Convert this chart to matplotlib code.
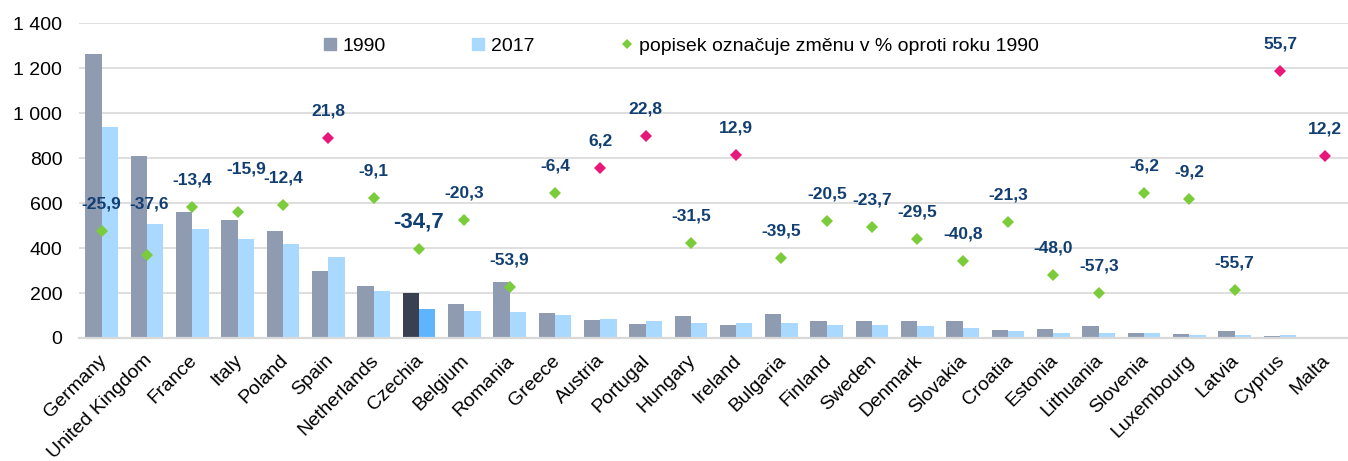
import numpy as np
import matplotlib
matplotlib.use('Agg')
from matplotlib import pyplot as plt
from matplotlib.lines import Line2D
from matplotlib.ticker import FuncFormatter
from matplotlib import transforms

plt.rcParams['font.family'] = ['Liberation Sans', 'DejaVu Sans']

#=================================================
#DATA
#=================================================
countries = ['Germany', 'United Kingdom', 'France', 'Italy', 'Poland', 'Spain',
             'Netherlands', 'Czechia', 'Belgium', 'Romania', 'Greece', 'Austria',
             'Portugal', 'Hungary', 'Ireland', 'Bulgaria', 'Finland', 'Sweden',
             'Denmark', 'Slovakia', 'Croatia', 'Estonia', 'Lithuania', 'Slovenia',
             'Luxembourg', 'Latvia', 'Cyprus', 'Malta']
v1990 = [1264, 811, 558, 524, 476, 296, 231, 200, 152, 250, 110, 81, 63, 98,
         59, 107, 75, 75, 75, 75, 37, 42, 52, 22, 17, 30, 9, 2.5]
v2017 = [937, 506, 483, 441, 417, 360, 210, 131, 121, 115, 103, 86, 77, 67,
         67, 65, 60, 57, 53, 44, 29, 22, 22, 21, 15, 13, 13, 2.8]
change = [-25.9, -37.6, -13.4, -15.9, -12.4, 21.8, -9.1, -34.7, -20.3, -53.9,
          -6.4, 6.2, 22.8, -31.5, 12.9, -39.5, -20.5, -23.7, -29.5, -40.8,
          -21.3, -48.0, -57.3, -6.2, -9.2, -55.7, 55.7, 12.2]
highlight = 'Czechia'
legend_labels = ['1990', '2017', 'popisek označuje změnu v % oproti roku 1990']

#=================================================
#STYLE
#=================================================
c1990 = '#8E9BB1'
c2017 = '#A9D9FF'
c1990_hl = '#394150'
c2017_hl = '#5EB4FF'
c_neg = '#7ACC3A'
c_pos = '#E8177A'
c_lab = '#123F72'
c_grid = '#D9D9D9'

#label offsets in pixels (dx, dy) where the default does not fit
label_offset = {'United Kingdom': (2, 51), 'Italy': (9, 43)}

#=================================================
#PLOT
#=================================================
fig = plt.figure(figsize=(13.48, 4.61), dpi=100)
ax = fig.add_axes([79/1348, 1 - 338/461, 1 - 79/1348, 315/461])

x = np.arange(len(countries))
w = 0.36
cols1 = [c1990_hl if c == highlight else c1990 for c in countries]
cols2 = [c2017_hl if c == highlight else c2017 for c in countries]
ax.bar(x - w/2, v1990, w, color=cols1, zorder=2)
ax.bar(x + w/2, v2017, w, color=cols2, zorder=2)

ax.set_xlim(-0.5, len(countries) - 0.5)
ax.set_ylim(0, 1400)
ax.set_yticks(np.arange(0, 1401, 200))
ax.yaxis.set_major_formatter(FuncFormatter(lambda v, p: f'{int(v):,}'.replace(',', ' ')))
ax.yaxis.grid(True, color=c_grid, linewidth=1.2, zorder=0)
ax.set_axisbelow(True)
for s in ['top', 'right', 'left']:
    ax.spines[s].set_visible(False)
ax.spines['bottom'].set_color(c_grid)
ax.spines['bottom'].set_linewidth(1.6)
ax.tick_params(axis='both', length=0, labelsize=14, colors='black')
ax.tick_params(axis='y', pad=12)
ax.set_xticks(x)
ax.set_xticklabels(countries, rotation=45, ha='right', va='top',
                   rotation_mode='anchor')
ax.tick_params(axis='x', pad=10)
shift = transforms.ScaledTranslation(-4/100, 0, fig.dpi_scale_trans)
for lab in ax.get_xticklabels():
    lab.set_transform(lab.get_transform() + shift)

#secondary scale for the % change
ax2 = ax.twinx()
ax2.set_ylim(-80, 80)
ax2.axis('off')
for i, (c, v) in enumerate(zip(countries, change)):
    col = c_pos if v > 0 else c_neg
    ax2.plot(x[i], v, marker='D', ms=6.3, color=col, mew=0, linestyle='none', zorder=3)
    dx, dy = label_offset.get(c, (0, 27))
    size = 16 if c == highlight else 12.5
    ax2.annotate(f'{v:.1f}'.replace('.', ','), (x[i], v), xytext=(dx, dy),
                 textcoords='offset pixels', ha='center', va='center',
                 fontsize=size, fontweight='bold', color=c_lab, zorder=4)

handles = [Line2D([], [], marker='s', color=c1990, ms=8, linestyle='none'),
           Line2D([], [], marker='s', color=c2017, ms=8, linestyle='none'),
           Line2D([], [], marker='D', color=c_neg, ms=5.5, mew=0, linestyle='none')]
fig.legend(handles, legend_labels, ncol=3, loc='center left',
           bbox_to_anchor=(322/1348, 1 - 46/461), frameon=False, fontsize=14,
           handlelength=0.8, handletextpad=0.25, columnspacing=4.35,
           borderpad=0, borderaxespad=0)

plt.savefig('out.png', dpi=100)
